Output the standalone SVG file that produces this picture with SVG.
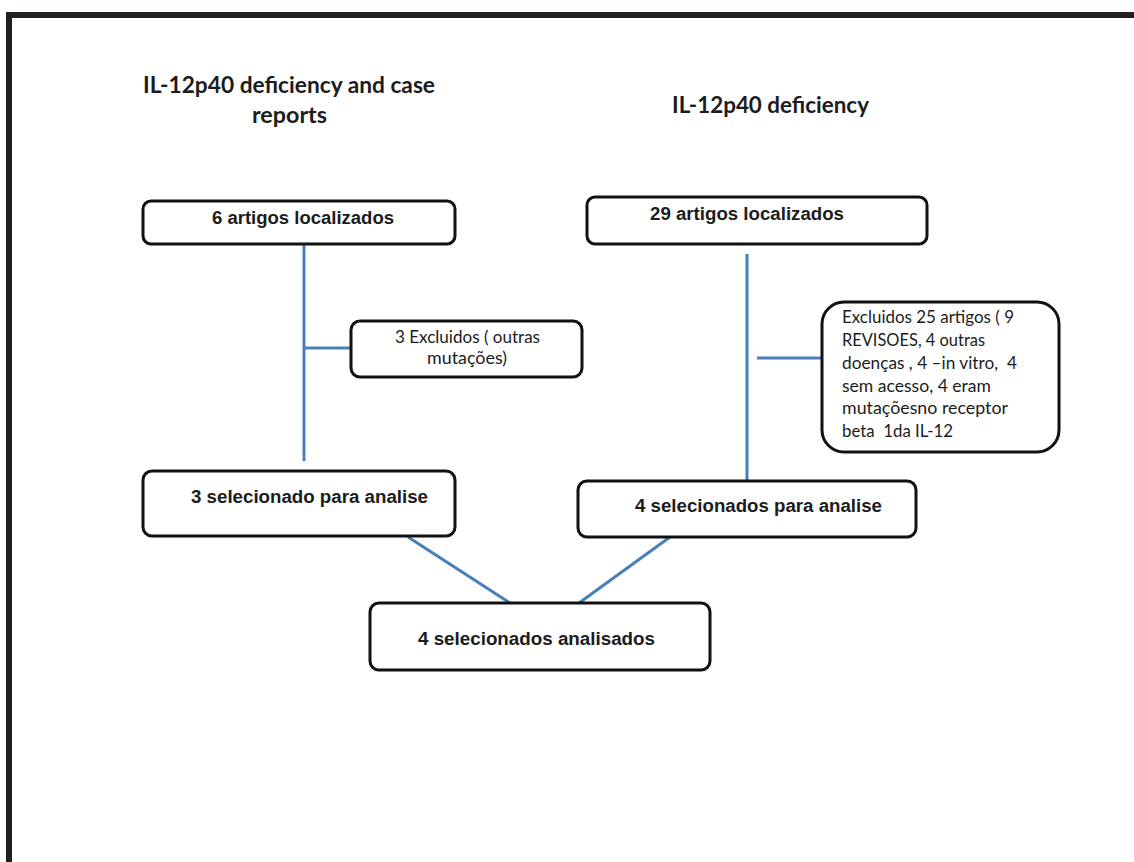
<svg xmlns="http://www.w3.org/2000/svg" width="1134" height="862" viewBox="0 0 1134 862">
  <style>
    .frame { fill: none; stroke: #231f20; stroke-width: 6; }
    .box { fill: #ffffff; stroke: #111111; stroke-width: 3; }
    .link { fill: none; stroke: #4a7ebb; stroke-width: 3; }
    .title { font-family: Lato, "Open Sans", sans-serif; font-weight: bold; font-size: 22px; fill: #1c1c1c; }
    .label { font-family: "Liberation Sans", Arial, sans-serif; font-weight: bold; font-size: 18px; fill: #1c1c1c; }
    .note { font-family: Lato, "Open Sans", sans-serif; font-size: 17px; fill: #1c1c1c; }
  </style>

  <rect width="1134" height="862" fill="#ffffff"/>

  <!-- page frame: top and left rules only -->
  <path class="frame" d="M9,870 V15 H1140"/>

  <!-- column headings -->
  <g id="heading-left">
    <text class="title" x="143" y="93" textLength="292" lengthAdjust="spacingAndGlyphs">IL-12p40 deficiency and case</text>
    <text class="title" x="252" y="123" textLength="75" lengthAdjust="spacingAndGlyphs">reports</text>
  </g>
  <g id="heading-right">
    <text class="title" x="672" y="113" textLength="197" lengthAdjust="spacingAndGlyphs">IL-12p40 deficiency</text>
  </g>

  <!-- connectors -->
  <g id="connectors">
    <line class="link" x1="304" y1="244" x2="304" y2="461"/>
    <line class="link" x1="304" y1="348" x2="351" y2="348"/>
    <line class="link" x1="747" y1="254" x2="747" y2="481"/>
    <line class="link" x1="757" y1="358" x2="822" y2="358"/>
    <line class="link" x1="408" y1="537" x2="510" y2="603"/>
    <line class="link" x1="670" y1="537" x2="579" y2="603"/>
  </g>

  <g id="found-left">
    <rect class="box" x="143" y="201" width="312" height="43" rx="8"/>
    <text class="label" x="212" y="224" textLength="182" lengthAdjust="spacingAndGlyphs">6 artigos localizados</text>
  </g>

  <g id="found-right">
    <rect class="box" x="587" y="197" width="340" height="47" rx="8"/>
    <text class="label" x="650" y="220" textLength="194" lengthAdjust="spacingAndGlyphs">29 artigos localizados</text>
  </g>

  <g id="excluded-left">
    <rect class="box" x="351" y="321" width="231" height="56" rx="9"/>
    <text class="note" x="395" y="343" textLength="145" lengthAdjust="spacingAndGlyphs">3 Excluidos ( outras</text>
    <text class="note" x="427" y="364" textLength="80" lengthAdjust="spacingAndGlyphs">mutações)</text>
  </g>

  <g id="excluded-right">
    <rect class="box" x="822" y="302" width="237" height="150" rx="22"/>
    <text class="note" x="842" y="323" textLength="172" lengthAdjust="spacingAndGlyphs">Excluidos 25 artigos ( 9</text>
    <text class="note" x="842" y="346" textLength="143" lengthAdjust="spacingAndGlyphs">REVISOES, 4 outras</text>
    <text class="note" x="842" y="369" textLength="175" lengthAdjust="spacingAndGlyphs" xml:space="preserve">doenças , 4 –in vitro,  4</text>
    <text class="note" x="842" y="392" textLength="149" lengthAdjust="spacingAndGlyphs">sem acesso, 4 eram</text>
    <text class="note" x="842" y="414" textLength="166" lengthAdjust="spacingAndGlyphs">mutaçõesno receptor</text>
    <text class="note" x="842" y="437" textLength="111" lengthAdjust="spacingAndGlyphs" xml:space="preserve">beta  1da IL-12</text>
  </g>

  <g id="selected-left">
    <rect class="box" x="143" y="471" width="312" height="65" rx="9"/>
    <text class="label" x="191" y="503" textLength="237" lengthAdjust="spacingAndGlyphs">3 selecionado para analise</text>
  </g>

  <g id="selected-right">
    <rect class="box" x="578" y="481" width="338" height="56" rx="9"/>
    <text class="label" x="635" y="512" textLength="247" lengthAdjust="spacingAndGlyphs">4 selecionados para analise</text>
  </g>

  <g id="analysed">
    <rect class="box" x="370" y="603" width="340" height="67" rx="9"/>
    <text class="label" x="418" y="645" textLength="237" lengthAdjust="spacingAndGlyphs">4 selecionados analisados</text>
  </g>
</svg>
